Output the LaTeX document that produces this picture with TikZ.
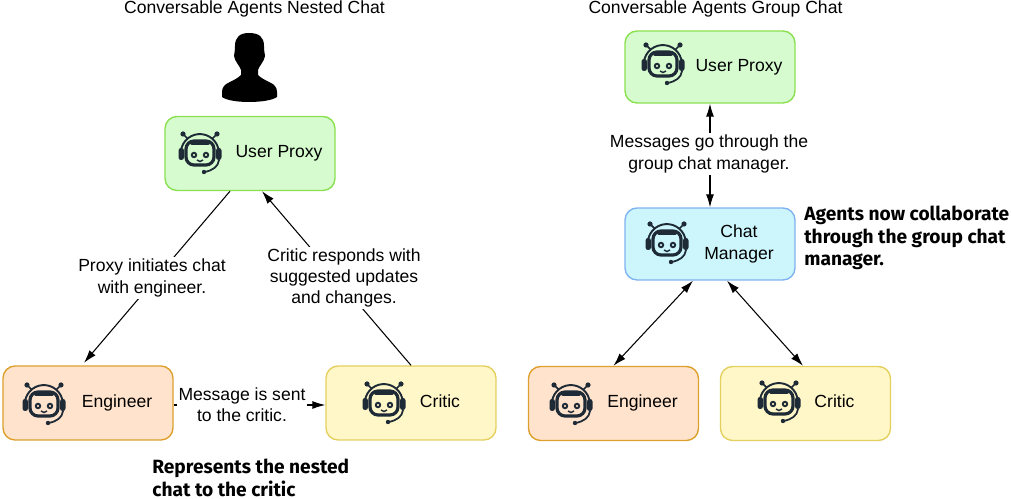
\documentclass[tikz,border=0pt]{standalone}
\usepackage{fontspec}
\setmainfont{Liberation Sans}
\newfontfamily\calloutfont{Fira Sans}
\usetikzlibrary{calc,arrows.meta}
\definecolor{botdark}{HTML}{1F2A37}
\definecolor{greenFill}{HTML}{D5FBCF}
\definecolor{greenLine}{HTML}{8AE04F}
\definecolor{orangeFill}{HTML}{FFE3CC}
\definecolor{orangeLine}{HTML}{DDA02C}
\definecolor{yellowFill}{HTML}{FFF7C8}
\definecolor{yellowLine}{HTML}{E3D05F}
\definecolor{blueFill}{HTML}{CCF6FC}
\definecolor{blueLine}{HTML}{7FB2EE}
\tikzset{
  agent/.style={rounded corners=0.24cm, line width=0.8pt, minimum width=3.4cm, minimum height=1.48cm,
    inner sep=0pt, font=\fontsize{10}{12.5}\selectfont},
  proxyBox/.style={agent, fill=greenFill, draw=greenLine},
  engBox/.style={agent, fill=orangeFill, draw=orangeLine},
  criticBox/.style={agent, fill=yellowFill, draw=yellowLine},
  managerBox/.style={agent, fill=blueFill, draw=blueLine, minimum height=1.44cm},
  lab/.style={fill=white, align=center, inner sep=1pt, font=\fontsize{10}{12.2}\selectfont},
  ttl/.style={font=\fontsize{10}{12}\selectfont},
  callout/.style={align=left, inner sep=0pt, font=\calloutfont\bfseries\fontsize{10.9}{12.7}\selectfont},
  conn/.style={line width=0.6pt, -{Latex[length=2.6mm,width=1.6mm]}},
  connBoth/.style={line width=0.6pt, {Latex[length=2.6mm,width=1.6mm]}-{Latex[length=2.6mm,width=1.6mm]}},
  botface/.pic={
    \draw[botdark, line width=1.1pt] (-18.5,5) arc (165:375:19);
    \draw[botdark, line width=1pt] (-12,-14) -- (-17,-19);
    \draw[botdark, line width=1pt] (12,-14) -- (17,-19);
    \fill[botdark] (-17,-19) circle (2.6) (17,-19) circle (2.6);
    \draw[botdark, line width=1.8pt, rounded corners=0.16cm] (-14,-12) rectangle (14,12);
    \fill[botdark, rounded corners=0.04cm] (-10,-12) rectangle (10,-8);
    \fill[botdark, rounded corners=0.05cm] (-21.5,-5) rectangle (-16,7);
    \fill[botdark, rounded corners=0.05cm] (16,-5) rectangle (21.5,7);
    \draw[botdark, line width=1.1pt] (-6,2) circle (2.2) (6,2) circle (2.2);
    \draw[botdark, line width=0.8pt] (-3,7) .. controls (-1,9) and (1,9) .. (3,7);
    \draw[botdark, line width=1pt] (19,7) .. controls (18,14) and (13,17) .. (5,19);
    \fill[botdark] (4,19) circle (2.2);
  }
}
\newcommand{\boxtext}[1]{\hspace*{1.16cm}\begin{tabular}{@{}c@{}}#1\end{tabular}}

\begin{document}
\begin{tikzpicture}[x=0.02cm,y=-0.02cm]
\useasboundingbox (0,0) rectangle (1012,499);

% nested chat
\node[ttl] (nestedTitle) at (254.5,8.5) {Conversable Agents Nested Chat};
\fill[black] (249,33) .. controls (240,33) and (235,37) .. (235,46)
  .. controls (235,52) and (234,54) .. (234,56) .. controls (235,62) and (240,66) .. (241,70)
  -- (241,75) .. controls (238,78) and (234,80) .. (230,82) .. controls (225,84) and (222,87) .. (222,92)
  -- (222,97) .. controls (226,100) and (236,102) .. (249,102)
  .. controls (262,102) and (273,100) .. (277,97) -- (277,92)
  .. controls (277,87) and (274,84) .. (269,82) .. controls (265,80) and (261,78) .. (258,75)
  -- (258,70) .. controls (259,66) and (264,62) .. (265,56)
  .. controls (265,54) and (264,52) .. (264,46) .. controls (264,37) and (259,33) .. (249,33) -- cycle;

\node[proxyBox] (userA) at (250,153.5) {\boxtext{User Proxy}};
\node[engBox] (engA) at (88,403) {\boxtext{Engineer}};
\node[criticBox] (criticA) at (411,403) {\boxtext{Critic}};
\pic at (200,153) {botface};
\pic at (44,404) {botface};
\pic at (384,403) {botface};

\draw[conn] ([xshift=-0.4cm]userA.south) -- ([xshift=-0.08cm,yshift=0.05cm]engA.north);
\draw[conn] (criticA.north) -- ([xshift=0.24cm]userA.south);
\draw[conn] (engA.east |- 0,405) -- (criticA.west |- 0,405);
\node[lab] (proxyMsg) at (152,278) {Proxy initiates chat\\with engineer.};
\node[lab] (criticMsg) at (344,278) {Critic responds with\\suggested updates\\and changes.};
\node[lab] (sentMsg) at (242,405) {Message is sent\\to the critic.};
\node[callout, anchor=north west] (nestedNote) at (152,459) {Represents the nested\\chat to the critic};

% group chat
\node[ttl] (groupTitle) at (715.5,8.5) {Conversable Agents Group Chat};
\node[managerBox, fill=greenFill, draw=greenLine] (userB) at (710,67) {\boxtext{User Proxy}};
\node[managerBox] (manager) at (710,244) {\boxtext{Chat\\Manager}};
\node[engBox] (engB) at (613.5,403.5) {\boxtext{Engineer}};
\node[criticBox] (criticB) at (805.5,403.5) {\boxtext{Critic}};
\pic at (663,64) {botface};
\pic at (667,243) {botface};
\pic at (571,404) {botface};
\pic at (779,402) {botface};

\draw[connBoth] (userB.south) -- (manager.north);
\draw[connBoth] ([xshift=-0.34cm]manager.south) -- (engB.north);
\draw[connBoth] ([xshift=0.34cm]manager.south) -- ([xshift=-0.05cm]criticB.north);
\node[lab] (groupMsg) at (709,154) {Messages go through the\\group chat manager.};
\node[callout, anchor=north west] (groupNote) at (804,206) {Agents now collaborate\\through the group chat\\manager.};
\end{tikzpicture}
\end{document}
